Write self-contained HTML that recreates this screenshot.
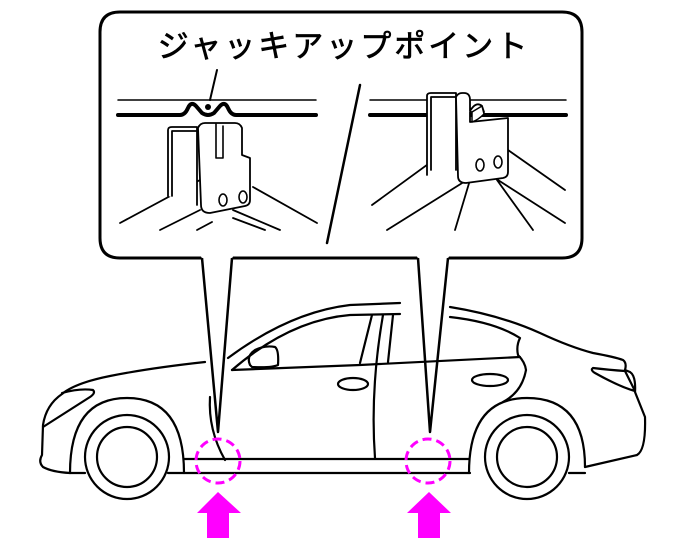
<!DOCTYPE html>
<html><head><meta charset="utf-8"><style>
html,body{margin:0;padding:0;background:#fff;}
svg{display:block;}
</style></head><body>
<svg width="686" height="556" viewBox="0 0 686 556" xmlns="http://www.w3.org/2000/svg">
<g fill="none" stroke="#000" stroke-linecap="round" stroke-linejoin="round">
<!-- callout box -->
<path d="M202 258 H120 Q100 258 100 238 V32 Q100 12 120 12 H562 Q582 12 582 32 V238 Q582 258 562 258 H448" stroke-width="3"/>
<path d="M232 258 H418" stroke-width="3"/>
<path d="M202 258 L218 432 L232 258" stroke-width="2.5" fill="#fff"/>
<path d="M418 258 L430 432 L448 258" stroke-width="2.5" fill="#fff"/>
<path d="M203 256 H231 M419 256 H447" stroke="#fff" stroke-width="4"/>

<!-- left panel -->
<path d="M118 100 H316" stroke-width="1.5"/>
<path d="M118 115 H180 Q185 115 188 108 Q191 101 196 106 L202 113 Q208 117 214 113 L220 106 Q225 101 228 108 Q231 115 236 115 H316" stroke-width="4"/>
<path d="M217 70 L210 100" stroke-width="2"/>
<circle cx="208" cy="107" r="3" fill="#000" stroke="none"/>
<path d="M120 223 L200 180 M160 230 L200 210 M197 230 L212 222 M253 187 L317 223 M233 210 L280 230 M233 218 L265 230" stroke-width="1.8"/>
<path d="M168 196 V130 Q168 127 172 127 H197 V205 M172 196 V131 H197" stroke-width="1.8" fill="#fff"/>
<path d="M198 128 Q200 123 205 123 H235 Q240 123 242 128 V155 L250 158 V200 Q250 205 245 206 L210 213 Q201 213 201 205 Z" stroke-width="1.8" fill="#fff"/>
<path d="M216 124 V158 H223 V126" stroke-width="1.6"/>
<ellipse cx="223" cy="200" rx="4" ry="6" stroke-width="1.6"/>
<ellipse cx="243" cy="197" rx="4" ry="6" stroke-width="1.6"/>

<!-- divider -->
<path d="M360 85 L327 243" stroke-width="2.5"/>

<!-- right panel -->
<path d="M370 100 H566" stroke-width="1.5"/>
<path d="M370 115 H566" stroke-width="4"/>
<path d="M372 205 L457 143 M387 230 L467 180 M508 150 L565 190 M487 173 L565 223 M497 180 L533 230 M470 180 L455 230" stroke-width="1.8"/>
<path d="M427 175 V96 Q427 93 431 93 H456 V170 M431 170 V97 H456" stroke-width="1.8" fill="#fff"/>
<path d="M456 97 Q458 93 462 93 H464 Q470 93 470 100 V111 Q476 101 482 106 L484 112 H470 V122 L508 118 V172 Q508 177 503 178 L466 183 Q458 183 458 176 Z" stroke-width="1.8" fill="#fff"/>
<path d="M472 112 L482 106 L484 114 Q478 120 472 122 Z" stroke-width="1.5" fill="#fff"/>
<ellipse cx="480" cy="165" rx="4" ry="6" stroke-width="1.6"/>
<ellipse cx="498" cy="162" rx="4" ry="6" stroke-width="1.6"/>

<!-- car -->
<g stroke-width="2.2">
<path d="M205 362 Q150 368 110 376 Q75 383 62 394 Q46 405 43 425 L42 455 Q38 462 43 467 Q52 472 70 473"/>
<path d="M62 393 Q80 388 93 390 Q96 393 90 397 L43 427"/>
<path d="M228 358 Q290 312 350 305 L400 303"/>
<path d="M232 370 Q290 320 350 315 L400 314"/>
<path d="M450 307 Q500 315 540 333 Q570 347 593 353 Q615 357 623 360 Q627 363 625 370"/>
<path d="M450 317 Q495 322 520 338 Q516 346 518 355 Q525 362 526 370 Q522 392 503 402"/>
<path d="M625 370 L630 372 Q636 376 635 392 L645 417 Q646 450 637 455 L585 467"/>
<path d="M593 368 Q610 370 625 371 L635 391 Q620 387 595 373 Q590 370 593 368"/>
<path d="M250 365 Q246 356 255 350 Q265 345 275 347 Q279 350 278 365 Q272 368 252 367 Z"/>
<path d="M232 370 L360 365 L520 357"/>
<path d="M372 315 L360 363 M393 315 L388 362"/>
<path d="M383 315 Q370 390 375 458"/>
<path d="M210 397 Q208 430 225 460"/>
<ellipse cx="353" cy="384" rx="15" ry="6"/>
<ellipse cx="490" cy="380" rx="18" ry="6"/>
<path d="M70 473 H85 M168 473 H470 M569 473 H585"/>
<path d="M184 459 H469"/>
<path d="M70 473 Q70 398 127 398 Q184 398 184 473"/>
<circle cx="127" cy="457" r="42"/>
<circle cx="127" cy="457" r="30"/>
<path d="M469 473 Q469 398 527 398 Q585 398 585 467"/>
<circle cx="527" cy="457" r="42" fill="#fff"/>
<circle cx="527" cy="457" r="30"/>
</g>
</g>
<g fill="none" stroke="#f0f" stroke-width="3" stroke-dasharray="9 5">
<circle cx="218" cy="461" r="22"/>
<circle cx="428" cy="461" r="22"/>
</g>
<g fill="#f0f">
<polygon points="218,492 241,513 229,513 229,538 207,538 207,513 197,513"/>
<polygon points="429,492 451,513 440,513 440,538 418,538 418,513 407,513"/>
</g>
<text x="344" y="57" text-anchor="middle" font-family="'Liberation Sans','Noto Sans CJK JP',sans-serif" font-size="31" letter-spacing="3" fill="#000" stroke="#000" stroke-width="0.7">ジャッキアップポイント</text>
</svg>
</body></html>
